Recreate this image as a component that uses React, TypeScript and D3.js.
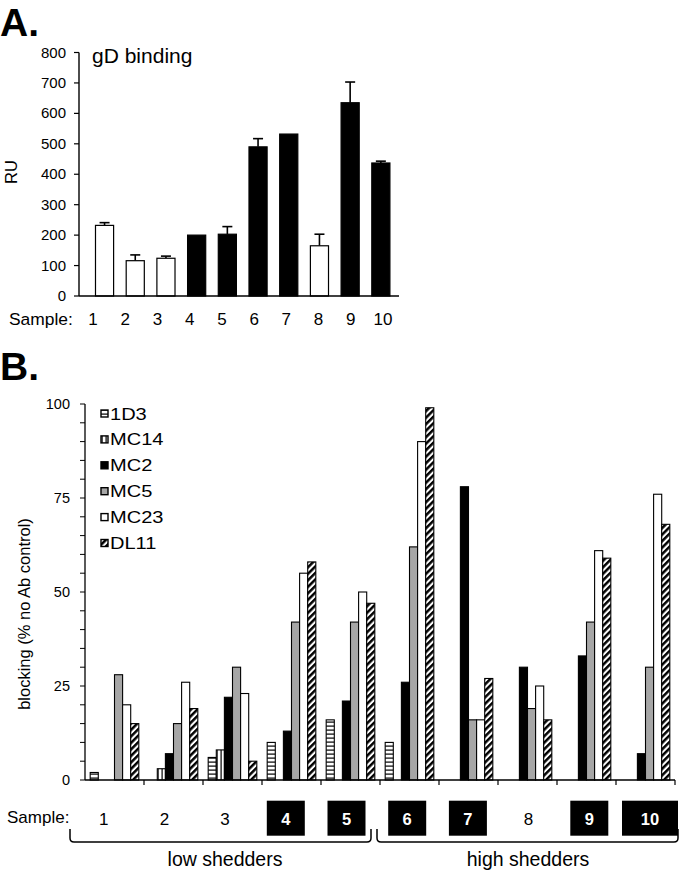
import React from 'react';
import * as d3 from 'd3';

// ---------- Panel A data ----------
const samples = ['1', '2', '3', '4', '5', '6', '7', '8', '9', '10'];
const ruValues = [232, 116, 124, 200, 203, 490, 532, 165, 635, 437];
const ruErrors = [9, 19, 7, 0, 25, 27, 0, 38, 68, 6];
const highShedder = [false, false, false, true, true, true, true, false, true, true];
const ruTicks = [0, 100, 200, 300, 400, 500, 600, 700, 800];

// ---------- Panel B data ----------
const antibodies = ['1D3', 'MC14', 'MC2', 'MC5', 'MC23', 'DL11'];
const block1D3 = [2, 0, 6, 10, 16, 10, 0, 0, 0, 0];
const blockMC14 = [0, 3, 8, 0, 0, 0, 0, 0, 0, 0];
const blockMC2 = [0, 7, 22, 13, 21, 26, 78, 30, 33, 7];
const blockMC5 = [28, 15, 30, 42, 42, 62, 16, 19, 42, 30];
const blockMC23 = [20, 26, 23, 55, 50, 90, 16, 25, 61, 76];
const blockDL11 = [15, 19, 5, 58, 47, 99, 27, 16, 59, 68];
const blockTicks = [0, 25, 50, 75, 100];
const groupLabels = ['low shedders', 'high shedders'];

const seriesB = [block1D3, blockMC14, blockMC2, blockMC5, blockMC23, blockDL11];
const fillB = ['url(#hstripe)', 'url(#vstripe)', '#000', '#a6a6a6', '#fff', 'url(#diag)'];

const FONT = 'Arial, "Liberation Sans", Helvetica, sans-serif';

export default function App() {
  // Panel A scales
  const yA = d3.scaleLinear().domain([0, 800]).range([296, 52.5]);
  const xA = d3.scaleBand().domain(samples).range([89.2, 396.2]).paddingInner(0.41).paddingOuter(0.205);
  const labA = d3.scalePoint().domain(samples).range([93, 383]);

  // Panel B scales
  const yB = d3.scaleLinear().domain([0, 100]).range([780, 404]);
  const x0 = d3.scaleBand().domain(samples).range([85, 675]);
  const x1 = d3.scaleBand().domain(antibodies).range([0, x0.bandwidth()]).paddingInner(0).paddingOuter(0.64);
  const labB = d3.scalePoint().domain(samples).range([103.7, 650]);
  const minorTicks = d3.range(0, 101, 5);

  return (
    <svg width={680} height={871} style={{ position: 'absolute', left: 0, top: 0, background: '#fff' }} fontFamily={FONT}>
      <defs>
        <pattern id="hstripe" patternUnits="userSpaceOnUse" width={4} height={4}>
          <rect width={4} height={4} fill="#fff" />
          <rect y={1.5} width={4} height={1.2} fill="#000" />
        </pattern>
        <pattern id="vstripe" patternUnits="userSpaceOnUse" width={4} height={4}>
          <rect width={4} height={4} fill="#fff" />
          <rect x={1.5} width={1.2} height={4} fill="#000" />
        </pattern>
        <pattern id="diag" patternUnits="userSpaceOnUse" width={4.6} height={4.6} patternTransform="rotate(45)">
          <rect width={4.6} height={4.6} fill="#fff" />
          <rect width={2.5} height={4.6} fill="#000" />
        </pattern>
      </defs>
      <rect width={680} height={871} fill="#fff" />

      {/* ================= Panel A ================= */}
      <text x={0} y={36} fontSize={39} fontWeight="bold">A.</text>
      <text x={92} y={63} fontSize={21}>gD binding</text>
      <text transform="translate(17,172) rotate(-90)" textAnchor="middle" fontSize={16.5}>RU</text>
      {ruTicks.map((t) => (
        <g key={'ta' + t}>
          <line x1={74} x2={79} y1={yA(t)} y2={yA(t)} stroke="#000" strokeWidth={1.2} />
          <text x={66} y={yA(t) + 5} textAnchor="end" fontSize={15}>{t}</text>
        </g>
      ))}
      {samples.map((s, i) => {
        const cx = (xA(s) as number) + xA.bandwidth() / 2;
        const top = yA(ruValues[i]);
        return (
          <g key={'ba' + s}>
            {ruErrors[i] > 0 && (
              <g stroke="#000" strokeWidth={1.6}>
                <line x1={cx} x2={cx} y1={top} y2={yA(ruValues[i] + ruErrors[i])} />
                <line x1={cx - 5} x2={cx + 5} y1={yA(ruValues[i] + ruErrors[i])} y2={yA(ruValues[i] + ruErrors[i])} />
              </g>
            )}
            <rect x={xA(s)} y={top} width={xA.bandwidth()} height={yA(0) - top}
              fill={highShedder[i] ? '#000' : '#fff'} stroke="#000" strokeWidth={1.2} />
          </g>
        );
      })}
      <line x1={79} x2={79} y1={yA(800)} y2={yA(0)} stroke="#000" strokeWidth={1.4} />
      <line x1={79} x2={399} y1={yA(0)} y2={yA(0)} stroke="#000" strokeWidth={1.4} />
      <text x={9} y={325} fontSize={17.4}>Sample:</text>
      {samples.map((s) => (
        <text key={'la' + s} x={labA(s)} y={325} textAnchor="middle" fontSize={17}>{s}</text>
      ))}

      {/* ================= Panel B ================= */}
      <text x={0} y={380} fontSize={39} fontWeight="bold">B.</text>
      <text transform="translate(30,614) rotate(-90)" textAnchor="middle" fontSize={16.5}>blocking (% no Ab control)</text>
      {minorTicks.map((t) => (
        <line key={'mb' + t} x1={80} x2={85} y1={yB(t)} y2={yB(t)} stroke="#000" strokeWidth={1} />
      ))}
      {blockTicks.map((t) => (
        <text key={'tb' + t} x={70} y={yB(t) + 5} textAnchor="end" fontSize={14.5}>{t}</text>
      ))}
      {samples.map((s, gi) => (
        <g key={'gb' + s} transform={`translate(${x0(s)},0)`}>
          {antibodies.map((ab, ai) => {
            const v = seriesB[ai][gi];
            if (!v) return null;
            return (
              <rect key={ab} x={x1(ab)} y={yB(v)} width={x1.bandwidth()} height={yB(0) - yB(v)}
                fill={fillB[ai]} stroke="#000" strokeWidth={1.1} />
            );
          })}
        </g>
      ))}
      <line x1={85} x2={85} y1={yB(100)} y2={yB(0)} stroke="#000" strokeWidth={1.3} />
      <line x1={85} x2={675} y1={yB(0)} y2={yB(0)} stroke="#000" strokeWidth={1.3} />
      {samples.map((s) => (
        <line key={'xt' + s} x1={(x0(s) as number) + x0.bandwidth()} x2={(x0(s) as number) + x0.bandwidth()}
          y1={yB(0)} y2={yB(0) + 5} stroke="#000" strokeWidth={1.2} />
      ))}

      {/* legend */}
      {antibodies.map((ab, ai) => {
        const ly = 413.5 + ai * 25.9;
        return (
          <g key={'lg' + ab}>
            <rect x={101} y={ly - 3.5} width={7} height={7} fill={fillB[ai]} stroke="#000" strokeWidth={1.4} />
            <text transform={`translate(110,${ly + 6}) scale(1.18,1)`} fontSize={17}>{ab}</text>
          </g>
        );
      })}

      {/* sample row */}
      <text x={7} y={823} fontSize={17}>Sample:</text>
      {samples.map((s, i) => {
        const cx = labB(s) as number;
        const w = s.length > 1 ? 56 : 38;
        return highShedder[i] ? (
          <g key={'lb' + s}>
            <rect x={cx - w / 2} y={800.7} width={w} height={35} fill="#000" />
            <text x={cx} y={824.5} textAnchor="middle" fontSize={16.5} fontWeight="bold" fill="#fff">{s}</text>
          </g>
        ) : (
          <text key={'lb' + s} x={cx} y={824.5} textAnchor="middle" fontSize={17}>{s}</text>
        );
      })}

      {/* brackets */}
      <path d="M70,829 V838 Q70,842 74,842 H367 Q371,842 371,838 V829" fill="none" stroke="#000" strokeWidth={1.5} />
      <path d="M377,829 V838 Q377,842 381,842 H674 Q678,842 678,838 V829" fill="none" stroke="#000" strokeWidth={1.5} />
      <text x={225} y={866} textAnchor="middle" fontSize={19.5}>{groupLabels[0]}</text>
      <text x={528} y={866} textAnchor="middle" fontSize={19.5}>{groupLabels[1]}</text>
    </svg>
  );
}
